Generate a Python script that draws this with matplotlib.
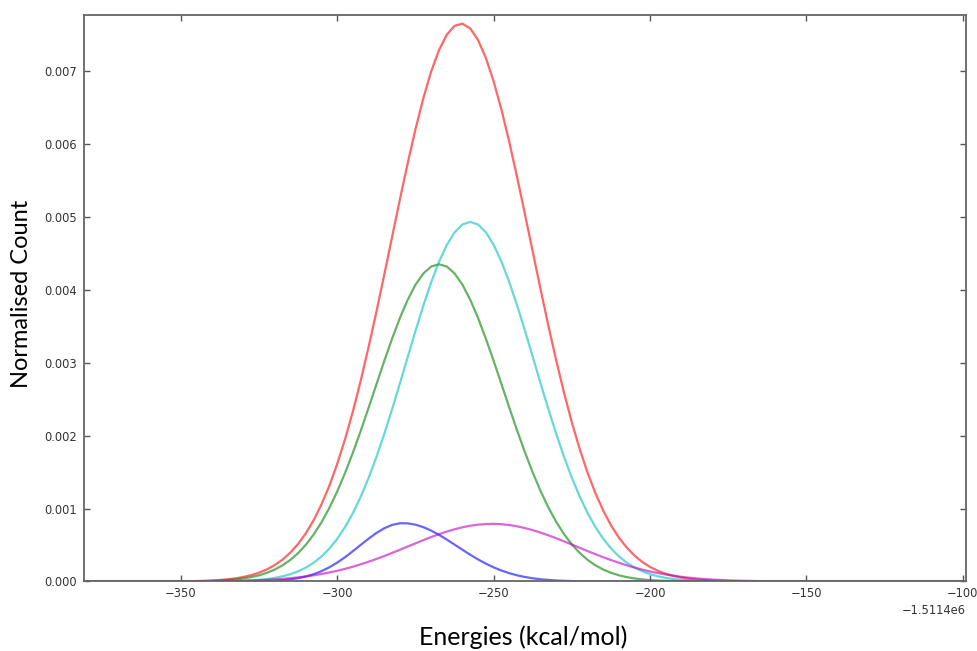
import numpy as np
import matplotlib
matplotlib.use('Agg')
import matplotlib.pyplot as plt
from matplotlib.ticker import FormatStrFormatter, MultipleLocator

# energy grid (kcal/mol), plotted relative to the -1.5114e6 offset: -380 ... -100 in steps of 2.5
BASE = -1511400
offsets = np.arange(-380, -99, 2.5)

# normalised counts, one value per grid point
red = [0] * 8 + [
    0.0000004, 0.0000007, 0.000001, 0.0000016, 0.0000026, 0.000004, 0.0000062, 0.0000094,
    0.000014, 0.0000208, 0.00003, 0.0000437, 0.000062, 0.0000873, 0.000121, 0.000166,
    0.000225, 0.0003, 0.000397, 0.000517, 0.000665, 0.000847, 0.001063, 0.001319,
    0.001617, 0.001955, 0.002337, 0.002758, 0.003215, 0.003699, 0.004206, 0.004723,
    0.005237, 0.005736, 0.006204, 0.006627, 0.006992, 0.007285, 0.007497, 0.007619,
    0.007648, 0.007582, 0.007423, 0.007177, 0.006853, 0.006464, 0.006021, 0.005539,
    0.005032, 0.004516, 0.004003, 0.003502, 0.003027, 0.002584, 0.002179, 0.001815,
    0.001492, 0.001212, 0.000973, 0.00077, 0.000603, 0.000466, 0.000355, 0.000268,
    0.000199, 0.000146, 0.000106, 0.0000763, 0.000054, 0.0000378, 0.000026, 0.0000178,
    0.000012, 0.000008, 0.000005, 0.0000034, 0.000002, 0.0000014, 0.000001] + [0] * 26
green = [0] * 8 + [
    0.0000002, 0.0000003, 0.0000005, 0.0000008, 0.0000013, 0.0000021, 0.0000034, 0.0000054,
    0.0000084, 0.0000128, 0.0000192, 0.0000285, 0.0000417, 0.00006, 0.000085, 0.000119,
    0.000164, 0.000222, 0.000297, 0.000391, 0.000507, 0.000648, 0.000816, 0.001013,
    0.001238, 0.001491, 0.001769, 0.002068, 0.002382, 0.002703, 0.003022, 0.003328,
    0.003612, 0.003862, 0.004069, 0.004223, 0.004318, 0.00435, 0.004318, 0.004223,
    0.004069, 0.003862, 0.003612, 0.003328, 0.003022, 0.002703, 0.002382, 0.002068,
    0.001769, 0.001491, 0.001238, 0.001013, 0.000816, 0.000648, 0.000507, 0.000391,
    0.000297, 0.000222, 0.000164, 0.000119, 0.000085, 0.00006, 0.0000417, 0.0000285,
    0.0000192, 0.0000128, 0.0000084, 0.0000054, 0.0000034, 0.0000021, 0.0000013, 0.0000008,
    0.0000005, 0.0000003, 0.0000002] + [0] * 30
cyan = [0] * 11 + [
    0.0000001, 0.0000002, 0.00000035, 0.0000006, 0.000001, 0.0000016, 0.0000026, 0.0000042,
    0.0000065, 0.0000101, 0.0000153, 0.000023, 0.0000339, 0.0000494, 0.0000709, 0.0001002,
    0.0001396, 0.0001917, 0.0002592, 0.0003453, 0.0004535, 0.000587, 0.000748, 0.00094,
    0.001164, 0.00142, 0.001707, 0.002022, 0.002361, 0.002715, 0.003077, 0.003437,
    0.003782, 0.004101, 0.004382, 0.004614, 0.004787, 0.004894, 0.00493, 0.004894,
    0.004787, 0.004614, 0.004382, 0.004101, 0.003782, 0.003437, 0.003077, 0.002715,
    0.002361, 0.002022, 0.001707, 0.00142, 0.001164, 0.00094, 0.000748, 0.000587,
    0.0004535, 0.0003453, 0.0002592, 0.0001917, 0.0001396, 0.0001002, 0.0000709, 0.0000494,
    0.0000339, 0.000023, 0.0000153, 0.0000101, 0.0000065, 0.0000042, 0.0000026, 0.0000016,
    0.000001, 0.0000006, 0.00000035, 0.0000002, 0.0000001] + [0] * 25
blue = [0] * 18 + [
    0.00000027, 0.00000054, 0.00000105, 0.00000198, 0.00000362, 0.0000064, 0.000011, 0.0000182,
    0.0000293, 0.0000457, 0.0000689, 0.0001007, 0.0001426, 0.0001956, 0.0002598, 0.0003342,
    0.0004163, 0.0005026, 0.0005875, 0.0006654, 0.0007298, 0.0007754, 0.000798, 0.000797,
    0.0007787, 0.0007449, 0.0006977, 0.0006398, 0.0005744, 0.000505, 0.0004346, 0.0003662,
    0.0003022, 0.0002442, 0.0001931, 0.0001495, 0.0001134, 0.0000842, 0.0000612, 0.0000436,
    0.0000304, 0.0000207, 0.0000138, 0.000009, 0.0000058, 0.0000036, 0.0000022, 0.0000013,
    0.0000008, 0.0000005, 0.0000003] + [0] * 44
magenta = [0] * 5 + [
    0.0000001, 0.0000001, 0.00000014, 0.00000021, 0.00000031, 0.00000044, 0.00000063, 0.00000089,
    0.00000124, 0.0000017, 0.00000238, 0.0000032, 0.00000439, 0.0000059, 0.00000785, 0.0000103,
    0.0000135, 0.0000175, 0.0000226, 0.0000288, 0.0000363, 0.0000456, 0.0000566, 0.0000697,
    0.0000851, 0.000103, 0.0001236, 0.000147, 0.0001736, 0.000203, 0.0002356, 0.000271,
    0.0003089, 0.000349, 0.0003914, 0.000435, 0.0004792, 0.000523, 0.0005668, 0.000609,
    0.000648, 0.000684, 0.0007157, 0.000743, 0.0007639, 0.000779, 0.0007878, 0.00079,
    0.0007851, 0.000774, 0.000756, 0.000732, 0.0007036, 0.00067, 0.0006326, 0.000592,
    0.0005496, 0.000506, 0.0004614, 0.000417, 0.0003743, 0.000333, 0.0002934, 0.000257,
    0.0002223, 0.000191, 0.0001627, 0.000137, 0.000115, 0.0000955, 0.0000786, 0.0000641,
    0.0000519, 0.0000416, 0.0000331, 0.0000261, 0.0000204, 0.0000158, 0.0000122, 0.0000093,
    0.000007, 0.0000053, 0.0000039, 0.0000029, 0.0000021, 0.0000015, 0.0000011, 0.0000007,
    0.0000005, 0.0000003, 0.0000002] + [0] * 17

energies = offsets + BASE

fig = plt.figure(figsize=(9.77, 6.51), dpi=100)
ax = fig.add_axes([0.086, 0.1068, 0.9027, 0.8694])

for ys, col in [(red, 'r'), (green, 'g'), (cyan, 'c'), (blue, 'b'), (magenta, 'm')]:
    ax.plot(energies, ys, color=col, alpha=0.6, lw=1.6)

ax.set_xlim(BASE - 381, BASE - 99)
ax.set_ylim(0, 0.00776)
ax.xaxis.set_major_locator(MultipleLocator(50))
ax.yaxis.set_major_locator(MultipleLocator(0.001))
ax.yaxis.set_major_formatter(FormatStrFormatter('%.3f'))
ax.ticklabel_format(axis='x', useOffset=BASE)

ax.tick_params(which='both', direction='in', top=True, right=True, length=4,
               width=1, color='#555555', labelsize=8.3, labelcolor='#333333')
ax.tick_params(axis='x', pad=4)
ax.tick_params(axis='y', pad=5)
ax.xaxis.get_offset_text().set_fontsize(8.3)
ax.xaxis.get_offset_text().set_color('#333333')
for sp in ax.spines.values():
    sp.set_color('#666666')
    sp.set_linewidth(1.3)

fig.text(0.0215, 0.549, 'Normalised Count', rotation=90, ha='center', va='center',
         fontsize=17, family='Lato')
fig.text(0.536, 0.0215, 'Energies (kcal/mol)', ha='center', va='center',
         fontsize=18, family='Lato')

fig.savefig('out.png', dpi=100)
